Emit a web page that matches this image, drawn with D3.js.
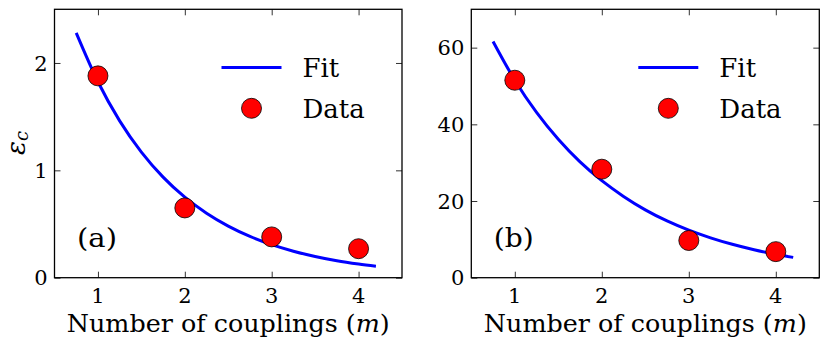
<!DOCTYPE html>
<html><head><meta charset="utf-8">
<script src="https://cdn.jsdelivr.net/npm/d3@7"></script>
<style>body{margin:0;background:#fff}svg{display:block}</style>
</head><body>
<script>
// data
const couplings = [1, 2, 3, 4];
const dataA = [1.88, 0.65, 0.38, 0.27];
const dataB = [51.5, 28.3, 9.7, 6.8];
const fitX = [0.75, 1.0, 1.25, 1.5, 1.75, 2.0, 2.25, 2.5, 2.75, 3.0, 3.25, 3.5, 3.75, 4.0, 4.2];
const fitA = [2.28, 1.825, 1.461, 1.170, 0.937, 0.750, 0.601, 0.481, 0.385, 0.308, 0.247, 0.198, 0.158, 0.127, 0.106];
const fitB = [61.6, 51.5, 43.1, 36.1, 30.2, 25.3, 21.2, 17.7, 14.8, 12.4, 10.4, 8.71, 7.29, 6.10, 5.30];
const xTicks = [1, 2, 3, 4];
const yTicksA = [0, 1, 2];
const yTicksB = [0, 20, 40, 60];
const panelLabels = ["(a)", "(b)"];
const legendLabels = ["Fit", "Data"];
const xLabel = "Number of couplings (";

(function () {
const W = 822, H = 341;
const FONT = "DejaVu Serif";
const svg = d3.select("body").append("svg").attr("width", W).attr("height", H)
  .attr("font-family", FONT);

const panels = [
  {left: 54.5, right: 402, yMax: 2.5, data: dataA, fit: fitA, yTicks: yTicksA, label: panelLabels[0], ylab: true},
  {left: 471.3, right: 819.3, yMax: 70, data: dataB, fit: fitB, yTicks: yTicksB, label: panelLabels[1], ylab: false}
];
const pTop = 9.3, pBottom = 277.7;

panels.forEach(p => {
  const x = d3.scaleLinear().domain([0.5, 4.5]).range([p.left, p.right]);
  const y = d3.scaleLinear().domain([0, p.yMax]).range([pBottom, pTop]);
  const g = svg.append("g");

  // inward ticks on all sides
  const tk = 6;
  const mk = (axis) => axis.tickSizeInner(-tk).tickSizeOuter(0).tickPadding(0).tickFormat("");
  const axB = g.append("g").attr("transform", `translate(0,${pBottom})`).call(mk(d3.axisBottom(x).tickValues(xTicks)));
  const axT = g.append("g").attr("transform", `translate(0,${pTop})`).call(mk(d3.axisTop(x).tickValues(xTicks)));
  const axL = g.append("g").attr("transform", `translate(${p.left},0)`).call(mk(d3.axisLeft(y).tickValues(p.yTicks)));
  const axR = g.append("g").attr("transform", `translate(${p.right},0)`).call(mk(d3.axisRight(y).tickValues(p.yTicks)));
  [axB, axT, axL, axR].forEach(a => {
    a.select(".domain").remove();
    a.selectAll(".tick line").attr("stroke", "#333").attr("stroke-width", 1);
  });

  // tick labels
  g.selectAll(".xl").data(xTicks).join("text").attr("class", "xl")
    .attr("x", d => x(d)).attr("y", 303).attr("text-anchor", "middle")
    .attr("font-family", FONT).attr("font-size", 21).text(d => d);
  g.selectAll(".yl").data(p.yTicks).join("text").attr("class", "yl")
    .attr("x", p.left - 7).attr("y", d => y(d)).attr("dy", "0.36em").attr("text-anchor", "end")
    .attr("font-family", FONT).attr("font-size", 21).text(d => d);

  // fit line
  const line = d3.line().x((d, i) => x(fitX[i])).y(d => y(d)).curve(d3.curveMonotoneX);
  g.append("path").datum(p.fit).attr("d", line).attr("fill", "none")
    .attr("stroke", "#0000ff").attr("stroke-width", 3);

  // data points
  g.selectAll(".pt").data(p.data).join("circle").attr("class", "pt")
    .attr("cx", (d, i) => x(couplings[i])).attr("cy", d => y(d)).attr("r", 10)
    .attr("fill", "#ff0000").attr("stroke", "#000").attr("stroke-width", 0.8);

  // frame
  g.append("rect").attr("x", p.left).attr("y", pTop).attr("width", p.right - p.left).attr("height", pBottom - pTop)
    .attr("fill", "none").attr("stroke", "#000").attr("stroke-width", 1.3);

  // legend
  const lx = p.left + 167, tx = p.left + 248;
  g.append("line").attr("x1", lx).attr("x2", lx + 60).attr("y1", 67.5).attr("y2", 67.5)
    .attr("stroke", "#0000ff").attr("stroke-width", 3);
  g.append("text").attr("x", tx).attr("y", 77).attr("font-family", FONT).attr("font-size", 26)
    .text(legendLabels[0]);
  g.append("circle").attr("cx", lx + 30).attr("cy", 108.3).attr("r", 10)
    .attr("fill", "#ff0000").attr("stroke", "#000").attr("stroke-width", 0.8);
  g.append("text").attr("x", tx).attr("y", 118).attr("font-family", FONT).attr("font-size", 26)
    .text(legendLabels[1]);

  // panel label
  g.append("text").attr("x", p.left + 22.5).attr("y", 246.5).attr("font-family", FONT).attr("font-size", 26)
    .attr("textLength", 40).attr("lengthAdjust", "spacingAndGlyphs").text(p.label);

  // x label
  const xl = g.append("text").attr("x", (p.left + p.right) / 2).attr("y", 332).attr("text-anchor", "middle")
    .attr("font-family", FONT).attr("font-size", 25)
    .attr("textLength", 323).attr("lengthAdjust", "spacingAndGlyphs");
  xl.append("tspan").text(xLabel);
  xl.append("tspan").attr("font-style", "italic").text("m");
  xl.append("tspan").text(")");

  if (p.ylab) {
    const yl = svg.append("text").attr("transform", `translate(25,143) rotate(-90)`).attr("text-anchor", "middle")
      .attr("font-family", FONT).attr("font-size", 26);
    yl.append("tspan").attr("font-style", "italic").text("ε");
    yl.append("tspan").attr("font-style", "italic").attr("font-size", 18).attr("dy", 3).text("c");
  }
});
})();
</script>
</body></html>
